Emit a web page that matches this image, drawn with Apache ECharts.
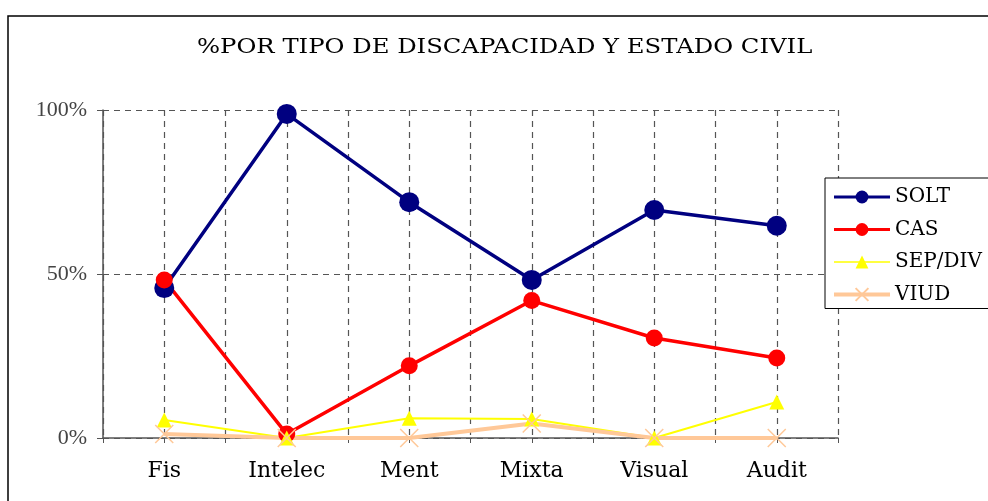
<!DOCTYPE html>
<html>
<head>
<meta charset="utf-8">
<script src="https://cdn.jsdelivr.net/npm/echarts@6/dist/echarts.min.js"></script>
<style>
  html, body { margin: 0; padding: 0; background: #fff; }
  #main { width: 988px; height: 501px; }
</style>
</head>
<body>
<div id="main"></div>
<script>
// categorias y valores (%)
var categories = ['Fis', 'Intelec', 'Ment', 'Mixta', 'Visual', 'Audit'];
var solt = [45.7, 98.8, 71.9, 48.2, 69.5, 64.7];
var cas = [48.2, 1.2, 22.0, 41.9, 30.5, 24.4];
var sepDiv = [5.5, 0, 6.0, 5.8, 0, 11.0];
var viud = [1.2, 0, 0, 4.4, 0, 0];
var yTicks = [0, 50, 100];
var titulo = '%POR TIPO DE DISCAPACIDAD Y ESTADO CIVIL';

var chart = echarts.init(document.getElementById('main'), null, { renderer: 'canvas' });

var crossPath = 'path://M0,0L10,10M10,0L0,10';

var option = {
  backgroundColor: '#fff',
  animation: false,
  graphic: [{
    type: 'rect',
    shape: { x: 8, y: 16, width: 1000, height: 500 },
    style: { fill: 'none', stroke: '#000', lineWidth: 1.5 },
    silent: true
  }, {
    // titulo, estirado en horizontal como el original
    type: 'text',
    x: 197,
    y: 48,
    scaleX: 1.215,
    style: {
      text: titulo,
      font: '20px "DejaVu Serif"',
      fill: '#000',
      textAlign: 'left',
      textVerticalAlign: 'middle'
    },
    silent: true
  }],
  legend: {
    orient: 'vertical',
    left: 825,
    top: 178,
    padding: [9, 60, 4, 7],
    itemWidth: 56,
    itemHeight: 16,
    itemGap: 12.5,
    borderColor: '#000',
    borderWidth: 1,
    backgroundColor: '#fff',
    textStyle: { fontFamily: 'DejaVu Serif', fontSize: 20, color: '#000' },
    data: [
      { name: 'SOLT', lineStyle: { width: 3 } },
      { name: 'CAS', lineStyle: { width: 3 } },
      { name: 'SEP/DIV', lineStyle: { width: 1.5 } },
      { name: 'VIUD', lineStyle: { width: 4 } }
    ]
  },
  grid: { left: 103, right: 150, top: 110, bottom: 63 },
  xAxis: [{
    type: 'category',
    data: categories,
    boundaryGap: true,
    axisLine: { show: true, lineStyle: { color: '#555', width: 1.5 } },
    axisTick: { show: false },
    splitLine: { show: false },
    axisLabel: { margin: 22, fontFamily: 'DejaVu Serif', fontSize: 22, color: '#000' }
  }, {
    // rejilla vertical (centros y bordes de categoria)
    type: 'value',
    min: 0,
    max: 12,
    interval: 1,
    position: 'bottom',
    axisLine: { show: false },
    axisLabel: { show: false },
    axisTick: { show: true, length: 5, lineStyle: { color: '#555' } },
    splitLine: { show: true, lineStyle: { color: '#555', type: [6, 5], width: 1.2 } }
  }],
  yAxis: {
    type: 'value',
    min: 0,
    max: 100,
    interval: 50,
    axisLine: { show: true, lineStyle: { color: '#555', width: 1.5 } },
    axisTick: { show: true, length: 6, lineStyle: { color: '#555' } },
    splitLine: { show: true, lineStyle: { color: '#555', type: [6, 5], width: 1.2 } },
    axisLabel: {
      margin: 16,
      fontFamily: 'Liberation Serif',
      fontSize: 22,
      color: '#444',
      formatter: function (v) { return yTicks.indexOf(v) >= 0 ? v + '%' : ''; }
    }
  },
  series: [{
    name: 'SOLT',
    type: 'line',
    data: solt,
    symbol: 'circle',
    symbolSize: 20,
    itemStyle: { color: '#000080' },
    lineStyle: { color: '#000080', width: 3.5 }
  }, {
    name: 'CAS',
    type: 'line',
    data: cas,
    symbol: 'circle',
    symbolSize: 17,
    itemStyle: { color: '#ff0000' },
    lineStyle: { color: '#ff0000', width: 3.5 }
  }, {
    name: 'SEP/DIV',
    type: 'line',
    data: sepDiv,
    symbol: 'triangle',
    symbolSize: 15,
    itemStyle: { color: '#ffff00' },
    lineStyle: { color: '#ffff00', width: 2 }
  }, {
    name: 'VIUD',
    type: 'line',
    data: viud,
    symbol: crossPath,
    symbolSize: 18,
    itemStyle: { color: '#ffc898', borderColor: '#ffc898', borderWidth: 1.5 },
    lineStyle: { color: '#ffc898', width: 4 }
  }]
};

chart.setOption(option);
</script>
</body>
</html>
